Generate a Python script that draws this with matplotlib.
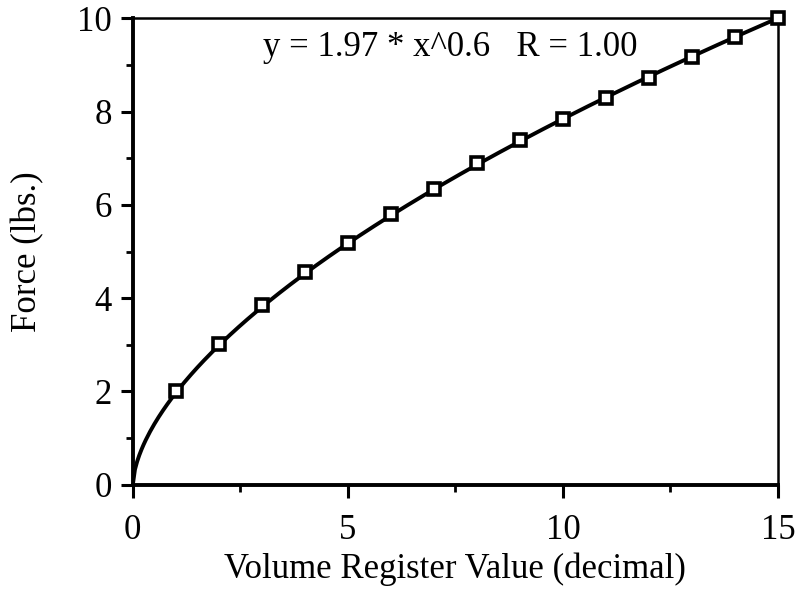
import numpy as np
import matplotlib
matplotlib.use('Agg')
import matplotlib.pyplot as plt
from matplotlib.ticker import MultipleLocator

plt.rcParams['font.family'] = ['Liberation Serif', 'DejaVu Serif']

# measured points
volume = [1, 2, 3, 4, 5, 6, 7, 8, 9, 10, 11, 12, 13, 14, 15]
force = [2.0, 3.02, 3.85, 4.56, 5.18, 5.8, 6.34, 6.9, 7.4, 7.85, 8.28, 8.72, 9.16, 9.6, 10.0]

# power-law fit shown on the chart
fit_a = 1.97
fit_b = 0.6
fit_label = 'y = 1.97 * x^0.6   R = 1.00'

fig = plt.figure(figsize=(8, 5.89), dpi=100)
ax = fig.add_axes([0.166, 0.177, 0.8065, 0.792])

xs = np.linspace(0, 15, 300)
ax.plot(xs, fit_a * xs ** fit_b, color='black', lw=2.8, zorder=2)
ax.plot(volume, force, ls='none', marker='s', ms=9, mfc='white', mec='black', mew=2.6,
        zorder=3, clip_on=False)

ax.set_xlim(0, 15)
ax.set_ylim(0, 10)
ax.xaxis.set_major_locator(MultipleLocator(5))
ax.xaxis.set_minor_locator(MultipleLocator(2.5))
ax.yaxis.set_major_locator(MultipleLocator(2))
ax.yaxis.set_minor_locator(MultipleLocator(1))
ax.tick_params(which='major', direction='out', length=9, width=2.2, labelsize=25, pad=6)
ax.tick_params(axis='x', which='major', pad=12)
ax.tick_params(which='minor', direction='out', length=5, width=2.0)

for side in ['left', 'bottom']:
    ax.spines[side].set_linewidth(2.8)
for side in ['top', 'right']:
    ax.spines[side].set_linewidth(1.8)

ax.set_xlabel('Volume Register Value (decimal)', fontsize=25, labelpad=4)
ax.set_ylabel('Force (lbs.)', fontsize=25, labelpad=24)
ax.text(3.02, 9.38, fit_label, fontsize=25, va='center', ha='left')

fig.savefig('out.png', dpi=100)
